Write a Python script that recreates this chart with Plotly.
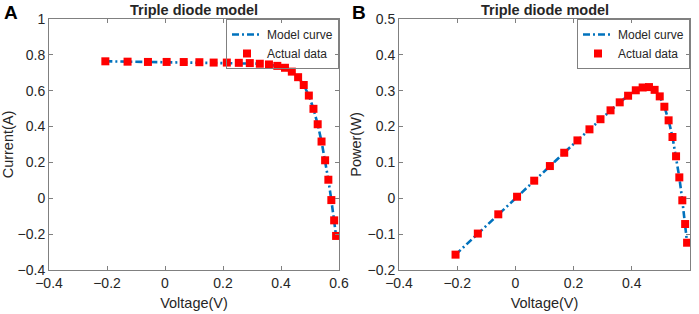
import plotly.graph_objects as go

voltage = [-0.2057, -0.1291, -0.0588, 0.0057, 0.0646, 0.1185, 0.1678, 0.2132, 0.2545, 0.2924,
           0.3269, 0.3585, 0.3873, 0.4137, 0.4373, 0.4590, 0.4784, 0.4960, 0.5119, 0.5265,
           0.5398, 0.5521, 0.5633, 0.5736, 0.5833, 0.5900]
current = [0.7640, 0.7620, 0.7605, 0.7605, 0.7600, 0.7590, 0.7570, 0.7570, 0.7555, 0.7540,
           0.7505, 0.7465, 0.7385, 0.7280, 0.7065, 0.6755, 0.6320, 0.5730, 0.4990, 0.4130,
           0.3165, 0.2120, 0.1035, -0.0100, -0.1230, -0.2100]
power = [-0.1572, -0.0984, -0.0447, 0.0043, 0.0491, 0.0899, 0.1270, 0.1614, 0.1923, 0.2205,
         0.2453, 0.2676, 0.2860, 0.3012, 0.3090, 0.3101, 0.3024, 0.2842, 0.2554, 0.2174,
         0.1709, 0.1171, 0.0583, -0.0057, -0.0718, -0.1239]
model_current = current
model_power = power

W, H = 699, 314
BLUE = "#0072BD"
RED = "#FF0000"
FONT = "Liberation Sans, Arial, sans-serif"
TXT = "#262626"

fig = go.Figure()

line_style = dict(color=BLUE, width=2.6, dash="7px,3px,2px,3px")
marker_style = dict(color=RED, symbol="square", size=8)

fig.add_trace(go.Scatter(x=voltage, y=model_current, mode="lines", line=line_style,
                         name="Model curve", xaxis="x", yaxis="y", legend="legend"))
fig.add_trace(go.Scatter(x=voltage, y=current, mode="markers", marker=marker_style,
                         name="Actual data", xaxis="x", yaxis="y", legend="legend"))
fig.add_trace(go.Scatter(x=voltage, y=model_power, mode="lines", line=line_style,
                         name="Model curve", xaxis="x2", yaxis="y2", legend="legend2"))
fig.add_trace(go.Scatter(x=voltage, y=power, mode="markers", marker=marker_style,
                         name="Actual data", xaxis="x2", yaxis="y2", legend="legend2"))

y0 = 1 - 270 / H
y1 = 1 - 19 / H
xd1 = [49 / W, 339 / W]
xd2 = [399 / W, 690 / W]

axis_common = dict(showline=True, linecolor="#808080", linewidth=1, mirror="ticks",
                   ticks="inside", ticklen=4, tickcolor="#808080", showgrid=False,
                   zeroline=False, tickfont=dict(family=FONT, size=14, color=TXT),
                   title_font=dict(family=FONT, size=14.5, color=TXT))

leg_common = dict(bordercolor="#808080", borderwidth=1, bgcolor="rgba(255,255,255,0)",
                  font=dict(family=FONT, size=12, color=TXT),
                  tracegroupgap=0, itemwidth=30)

fig.update_layout(
    width=W, height=H, margin=dict(l=0, r=0, t=0, b=0, autoexpand=False),
    plot_bgcolor="white", paper_bgcolor="white",
    font=dict(family=FONT, color=TXT),
    xaxis=dict(domain=xd1, anchor="y", range=[-0.4, 0.6], dtick=0.2,
               title=dict(text="Voltage(V)", standoff=8), **axis_common),
    yaxis=dict(domain=[y0, y1], anchor="x", range=[-0.4, 1.0], dtick=0.2,
               title=dict(text="Current(A)", standoff=2), **axis_common),
    xaxis2=dict(domain=xd2, anchor="y2", range=[-0.4, 0.6], dtick=0.2,
                title=dict(text="Voltage(V)", standoff=8), **axis_common),
    yaxis2=dict(domain=[y0, y1], anchor="x2", range=[-0.2, 0.5], dtick=0.1,
                title=dict(text="Power(W)", standoff=2), **axis_common),
    legend=dict(x=339 / W, xanchor="right", y=1 - 19 / H, yanchor="top", **leg_common),
    legend2=dict(x=690 / W, xanchor="right", y=1 - 19 / H, yanchor="top", **leg_common),
    showlegend=True,
    annotations=[
        dict(text="<b>Triple diode model</b>", x=(xd1[0] + xd1[1]) / 2, y=1 - 10 / H,
             xref="paper", yref="paper", xanchor="center", yanchor="middle", showarrow=False,
             font=dict(family=FONT, size=14.5, color=TXT)),
        dict(text="<b>Triple diode model</b>", x=(xd2[0] + xd2[1]) / 2, y=1 - 10 / H,
             xref="paper", yref="paper", xanchor="center", yanchor="middle", showarrow=False,
             font=dict(family=FONT, size=14.5, color=TXT)),
        dict(text="<b>A</b>", x=2 / W, y=1 - 13 / H, xref="paper", yref="paper",
             xanchor="left", yanchor="middle", showarrow=False,
             font=dict(family=FONT, size=19, color="black")),
        dict(text="<b>B</b>", x=350 / W, y=1 - 13 / H, xref="paper", yref="paper",
             xanchor="left", yanchor="middle", showarrow=False,
             font=dict(family=FONT, size=19, color="black")),
    ],
)

fig.write_html("out.html", config={"displayModeBar": False},
               post_script="document.body.style.margin='0';")
